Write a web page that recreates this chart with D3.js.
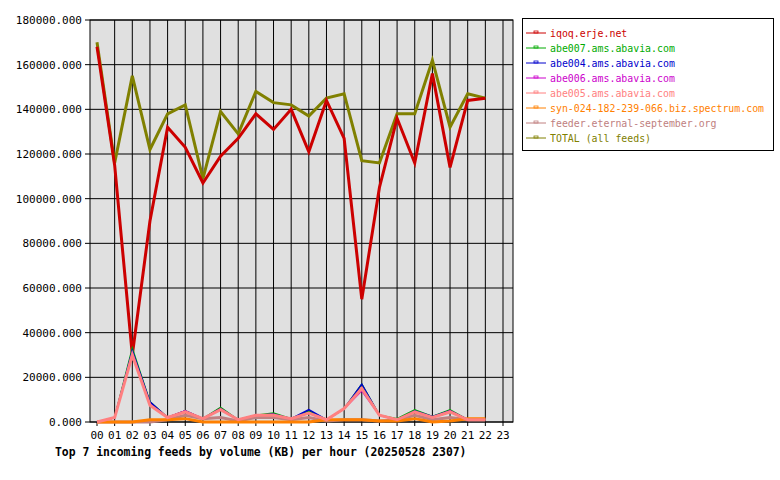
<!DOCTYPE html>
<html><head><meta charset="utf-8">
<script src="https://cdn.jsdelivr.net/npm/d3@7"></script>
<style>body{margin:0;background:#fff}svg{display:block}text{font-family:"DejaVu Sans Mono",monospace;font-size:11px}</style>
</head><body><svg id="c" width="780" height="480"></svg>
<script>
const hours = ["00","01","02","03","04","05","06","07","08","09","10","11","12","13","14","15","16","17","18","19","20","21","22","23"];
const yTicks = [0,20000,40000,60000,80000,100000,120000,140000,160000,180000];
const names = ["iqoq.erje.net","abe007.ams.abavia.com","abe004.ams.abavia.com","abe006.ams.abavia.com","abe005.ams.abavia.com","syn-024-182-239-066.biz.spectrum.com","feeder.eternal-september.org","TOTAL (all feeds)"];
const iqoq   = [168000,115000,30000,90000,132000,123000,107000,119000,127000,138000,131000,140000,121000,144000,127000,55000,105000,136000,116000,156000,114000,144000,145000];
const abe007 = [0,2000,33000,9000,2000,5000,1500,6500,1000,3000,4000,1500,5000,1000,6000,17000,3000,1500,5500,2500,5500,1000,1000];
const abe004 = [0,2000,32000,9000,2000,5000,1500,6000,1000,3000,3500,1500,5500,1000,6000,17000,3000,1000,5000,2500,5000,1000,1000];
const abe006 = [0,2000,31000,8000,2000,5000,1500,6000,1000,3000,3500,1500,4000,1000,6000,14000,3000,1000,4500,2000,5000,1000,1000];
const abe005 = [0,2000,30000,7500,2000,4500,1500,5500,1000,3000,3000,1500,4000,1000,6000,15000,3000,1000,4500,2000,4500,1000,1000];
const syn    = [0,0,0,1000,1000,1500,0,0,0,0,0,0,0,1000,1000,1000,500,500,1500,0,500,1500,1500];
const feeder = [0,0,0,0,1000,3000,1500,2000,500,2000,2000,1000,2000,500,1000,1000,500,1000,3000,1000,2000,1000,1000];
const total  = [170000,116000,155000,122000,138000,142000,109000,139000,129000,148000,143000,142000,137000,145000,147000,117000,116000,138000,138000,162000,132000,147000,145000];
const seriesVals = [iqoq,abe007,abe004,abe006,abe005,syn,feeder,total];
const colors = ["#cc0000","#00aa00","#0000cc","#cc00cc","#ff8080","#ff8000","#c08080","#808000"];
const widths = [3,1.5,1.5,1.5,3,3,3,3];
const drawOrder = [7,0,1,2,3,6,5,4];

const svg = d3.select("#c");
const L=90,R=513,T=20,B=422;
const x = d3.scalePoint().domain(hours).range([97,503]);
const y = d3.scaleLinear().domain([0,180000]).range([B,T]);
svg.append("rect").attr("x",L).attr("y",T).attr("width",R-L).attr("height",B-T).attr("fill","#e0e0e0");
const g = svg.append("g");
hours.slice(1).forEach(h=>g.append("line").attr("x1",x(h)).attr("x2",x(h)).attr("y1",T).attr("y2",B).attr("stroke","#000"));
yTicks.forEach(v=>{
  g.append("line").attr("x1",L-5).attr("x2",R).attr("y1",y(v)).attr("y2",y(v)).attr("stroke","#000");
  svg.append("text").attr("x",L-8).attr("y",y(v)+4).attr("text-anchor","end").text(d3.format(".3f")(v));
});
svg.append("rect").attr("x",L).attr("y",T).attr("width",R-L).attr("height",B-T).attr("fill","none").attr("stroke","#000");
hours.forEach(h=>{
  svg.append("line").attr("x1",x(h)).attr("x2",x(h)).attr("y1",B).attr("y2",B+4).attr("stroke","#000");
  svg.append("text").attr("x",x(h)).attr("y",B+17).attr("text-anchor","middle").text(h);
});
const line = d3.line().x((d,i)=>x(hours[i])).y(d=>y(d));
drawOrder.forEach(k=>svg.append("path").datum(seriesVals[k]).attr("d",line).attr("fill","none").attr("stroke",colors[k]).attr("stroke-width",widths[k]).attr("stroke-linejoin","miter"));
svg.append("text").attr("x",55).attr("y",456).attr("font-weight","bold").style("font-size","11.4px").text("Top 7 incoming feeds by volume (KB) per hour (20250528 2307)");
const lg = svg.append("g");
lg.append("rect").attr("x",522.5).attr("y",18.5).attr("width",251).attr("height",132).attr("fill","#fff").attr("stroke","#000");
names.forEach((n,i)=>{
  const yy=33+i*15;
  lg.append("line").attr("x1",526).attr("x2",546).attr("y1",yy).attr("y2",yy).attr("stroke",colors[i]);
  lg.append("rect").attr("x",534).attr("y",yy-2).attr("width",4).attr("height",2).attr("fill","none").attr("stroke",colors[i]).attr("stroke-width",0.8);
  lg.append("text").attr("x",550).attr("y",yy+4).attr("fill",colors[i]).style("font-size","9.9px").text(n);
});
</script></body></html>
